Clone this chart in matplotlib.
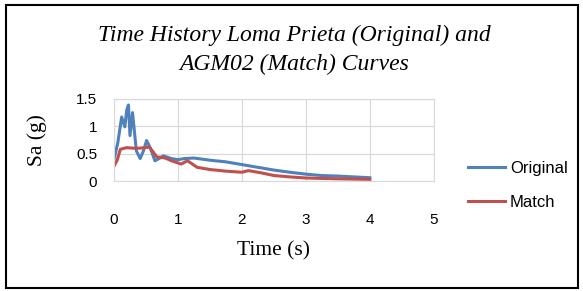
import matplotlib.pyplot as plt
from matplotlib.patches import Rectangle

# time (s) and spectral acceleration (g)
t_orig = [0.0, 0.06, 0.12, 0.17, 0.2, 0.226, 0.25, 0.29, 0.35, 0.41, 0.46, 0.51,
          0.57, 0.64, 0.72, 0.77, 0.9, 1.0, 1.1, 1.25, 1.5, 1.75, 2.0, 2.25,
          2.5, 2.75, 3.0, 3.25, 3.5, 3.75, 4.0]
sa_orig = [0.39, 0.7, 1.17, 0.99, 1.3, 1.39, 0.83, 1.25, 0.55, 0.41, 0.55, 0.74,
           0.6, 0.37, 0.42, 0.46, 0.41, 0.39, 0.41, 0.42, 0.38, 0.35, 0.3, 0.25,
           0.2, 0.16, 0.125, 0.1, 0.09, 0.075, 0.06]

t_match = [0.0, 0.05, 0.1, 0.2, 0.3, 0.4, 0.55, 0.6, 0.67, 0.8, 0.9, 1.0, 1.05,
           1.15, 1.3, 1.5, 1.75, 2.0, 2.1, 2.3, 2.5, 2.75, 3.0, 3.5, 4.0]
sa_match = [0.27, 0.38, 0.58, 0.61, 0.6, 0.6, 0.62, 0.55, 0.44, 0.42, 0.37, 0.33, 0.31,
            0.37, 0.25, 0.21, 0.18, 0.16, 0.19, 0.15, 0.1, 0.075, 0.055, 0.04, 0.03]

fig = plt.figure(figsize=(5.83, 2.91), dpi=100)
ax = fig.add_axes([0.1955, 0.378, 0.5485, 0.282])

ax.plot(t_orig, sa_orig, color='#4F81BD', lw=2.2, label='Original')
ax.plot(t_match, sa_match, color='#C0504D', lw=2.2, label='Match')

ax.set_xlim(0, 5)
ax.set_ylim(0, 1.5)
ax.set_xticks([0, 1, 2, 3, 4, 5])
ax.set_yticks([0, 0.5, 1, 1.5])
ax.set_xticklabels(['0', '1', '2', '3', '4', '5'])
ax.set_yticklabels(['0', '0.5', '1', '1.5'])
ax.grid(True, color='#D9D9D9', lw=0.9)
ax.set_axisbelow(True)
for s in ax.spines.values():
    s.set_color('#D9D9D9')
ax.tick_params(axis='y', length=0, labelsize=11, pad=12)
ax.tick_params(axis='x', length=0, labelsize=11, pad=23)
for lab in ax.get_xticklabels() + ax.get_yticklabels():
    lab.set_family('Liberation Sans')

ax.set_xlabel('Time (s)', family='Liberation Serif', fontsize=15.5)
ax.set_ylabel('Sa (g)', family='Liberation Serif', fontsize=15.5)
ax.xaxis.set_label_coords(0.5, -0.73)
ax.yaxis.set_label_coords(-0.21, 0.5)

fig.text(0.505, 0.878, 'Time History Loma Prieta (Original) and',
         family='Liberation Serif', style='italic', fontsize=17,
         ha='center', va='center')
fig.text(0.505, 0.779, 'AGM02 (Match) Curves',
         family='Liberation Serif', style='italic', fontsize=17,
         ha='center', va='center')

leg = ax.legend(loc='upper left', bbox_to_anchor=(0.803, 0.448),
                bbox_transform=fig.transFigure, frameon=False,
                borderpad=0, borderaxespad=0,
                handlelength=2.2, labelspacing=1.15, handletextpad=0.3,
                prop={'family': 'Liberation Sans', 'size': 12})

fig.patches.append(Rectangle((6 / 583, 3 / 291), 572 / 583, 283 / 291,
                             transform=fig.transFigure,
                             fill=False, edgecolor='black', lw=1.5))

fig.savefig('out.png', dpi=100)
